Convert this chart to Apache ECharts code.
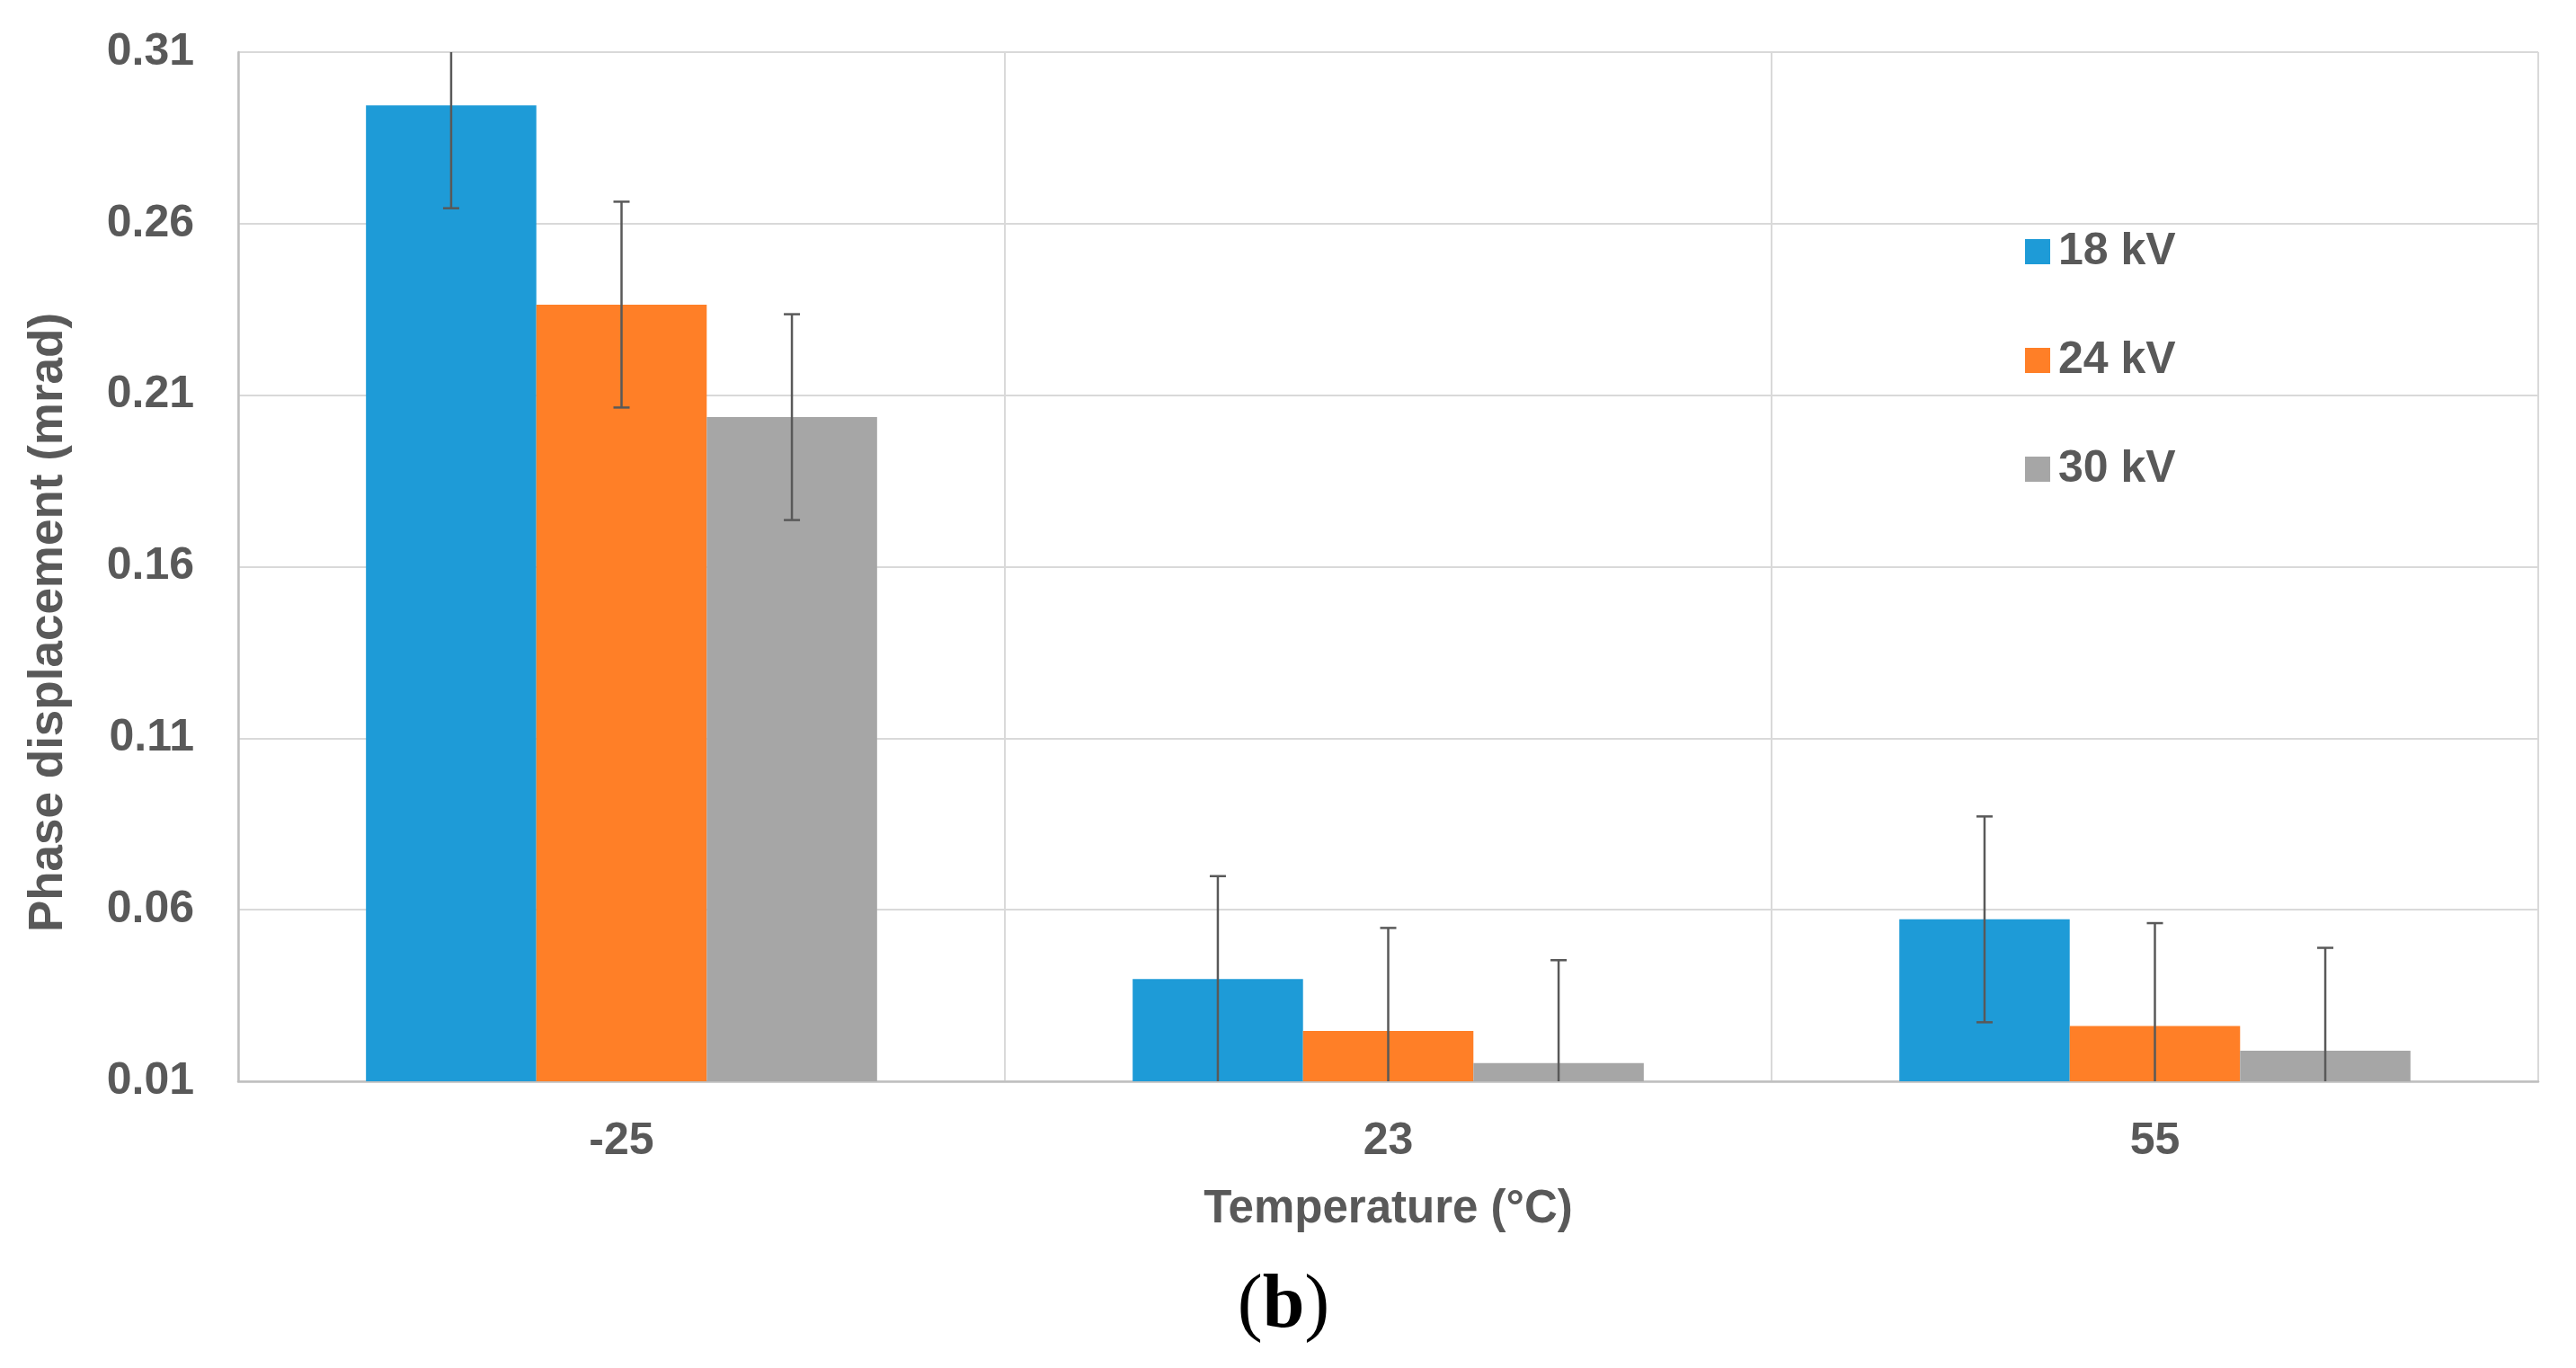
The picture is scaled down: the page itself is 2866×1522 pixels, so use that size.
<!DOCTYPE html>
<html><head><meta charset="utf-8">
<script src="https://cdn.jsdelivr.net/npm/echarts@6/dist/echarts.min.js"></script>
<style>html,body{margin:0;padding:0;background:#fff}#c{width:2866px;height:1522px}</style>
</head><body><div id="c"></div>
<script>
// ---- data ----
const categories = ['-25', '23', '55'];
const seriesNames = ['18 kV', '24 kV', '30 kV'];
const values18 = [0.2945, 0.0398, 0.0572];
const values24 = [0.2364, 0.0247, 0.0261];
const values30 = [0.2036, 0.0153, 0.0189];
const err18 = [0.030, 0.030, 0.030];
const err24 = [0.030, 0.030, 0.030];
const err30 = [0.030, 0.030, 0.030];
const yMin = 0.01, yMax = 0.31, yStep = 0.05;
const xTitle = 'Temperature (°C)';
const yTitle = 'Phase displacement (mrad)';
const panelLabel = 'b';

const colors = ['#1E9BD7', '#FF7F27', '#A6A6A6'];
const textColor = '#595959';
const font = 'Liberation Sans, Arial, sans-serif';
const catGap = 1 / 3;

const allValues = [values18, values24, values30];
const allErrs = [err18, err24, err30];

function makeErr(k) {
  return function (params, api) {
    const cat = api.value(0), v = api.value(1), e = api.value(2);
    const cs = params.coordSys;
    const bandW = api.size([1, 0])[0];
    const barW = bandW * (1 - catGap) / 3;
    const c = api.coord([cat, v]);
    const x = c[0] + (k - 1) * barW;
    let yTop = api.coord([cat, v + e])[1];
    let yBot = api.coord([cat, v - e])[1];
    const top = cs.y, bot = cs.y + cs.height;
    const capTop = yTop >= top, capBot = yBot <= bot;
    yTop = Math.max(yTop, top);
    yBot = Math.min(yBot, bot);
    const st = { stroke: '#595959', lineWidth: 2.5 };
    const children = [{ type: 'line', shape: { x1: x, y1: yTop, x2: x, y2: yBot }, style: st }];
    if (capTop) children.push({ type: 'line', shape: { x1: x - 9, y1: yTop, x2: x + 9, y2: yTop }, style: st });
    if (capBot) children.push({ type: 'line', shape: { x1: x - 9, y1: yBot, x2: x + 9, y2: yBot }, style: st });
    return { type: 'group', children: children };
  };
}

const series = [];
allValues.forEach(function (vals, i) {
  series.push({
    type: 'bar', name: seriesNames[i], data: vals,
    itemStyle: { color: colors[i] },
    barGap: '0%', barCategoryGap: (catGap * 100) + '%',
    silent: true
  });
});
allValues.forEach(function (vals, i) {
  series.push({
    type: 'custom', name: seriesNames[i] + ' error',
    data: vals.map(function (v, j) { return [j, v, allErrs[i][j]]; }),
    encode: { x: 0, y: 1 },
    renderItem: makeErr(i), z: 5, silent: true
  });
});

const chart = echarts.init(document.getElementById('c'), null, { renderer: 'canvas' });
chart.setOption({
  animation: false,
  backgroundColor: '#ffffff',
  grid: { left: 265, right: 42, top: 58, bottom: 319, containLabel: false },
  legend: {
    data: seriesNames, orient: 'vertical', left: 2248, top: 250,
    itemWidth: 28, itemHeight: 28, itemGap: 71, icon: 'rect',
    textStyle: { fontSize: 50, fontWeight: 'bold', color: textColor, fontFamily: font, lineHeight: 50, padding: [0, 0, 0, 4] }
  },
  xAxis: {
    type: 'category', data: categories,
    axisLine: { lineStyle: { color: '#BFBFBF', width: 2.5 } },
    axisTick: { show: false },
    splitLine: { show: true, lineStyle: { color: '#D9D9D9', width: 2 } },
    axisLabel: { fontSize: 50, fontWeight: 'bold', color: textColor, fontFamily: font, margin: 42 },
    name: xTitle, nameLocation: 'middle', nameGap: 117,
    nameTextStyle: { fontSize: 51, fontWeight: 'bold', color: textColor, fontFamily: font }
  },
  yAxis: {
    type: 'value', min: yMin, max: yMax, interval: yStep,
    axisLine: { show: true, lineStyle: { color: '#BFBFBF', width: 2.5 } },
    axisTick: { show: false },
    splitLine: { show: true, lineStyle: { color: '#D9D9D9', width: 2 } },
    axisLabel: { fontSize: 50, fontWeight: 'bold', color: textColor, fontFamily: font, margin: 49,
      formatter: function (v) { return v.toFixed(2); } },
    name: yTitle, nameLocation: 'middle', nameGap: 184, nameRotate: 90,
    nameTextStyle: { fontSize: 53, fontWeight: 'bold', color: textColor, fontFamily: font, padding: [0, 124, 0, 0] }
  },
  graphic: [{
    type: 'text', x: 1428, y: 1454,
    style: {
      text: '{p|(}{b|' + panelLabel + '}{p|)}',
      textAlign: 'center', textVerticalAlign: 'middle',
      rich: {
        p: { fontSize: 84, fontFamily: 'Liberation Serif, Times New Roman, serif', fill: '#000' },
        b: { fontSize: 84, fontWeight: 'bold', fontFamily: 'Liberation Serif, Times New Roman, serif', fill: '#000' }
      }
    }
  }],
  series: series
});
</script></body></html>
